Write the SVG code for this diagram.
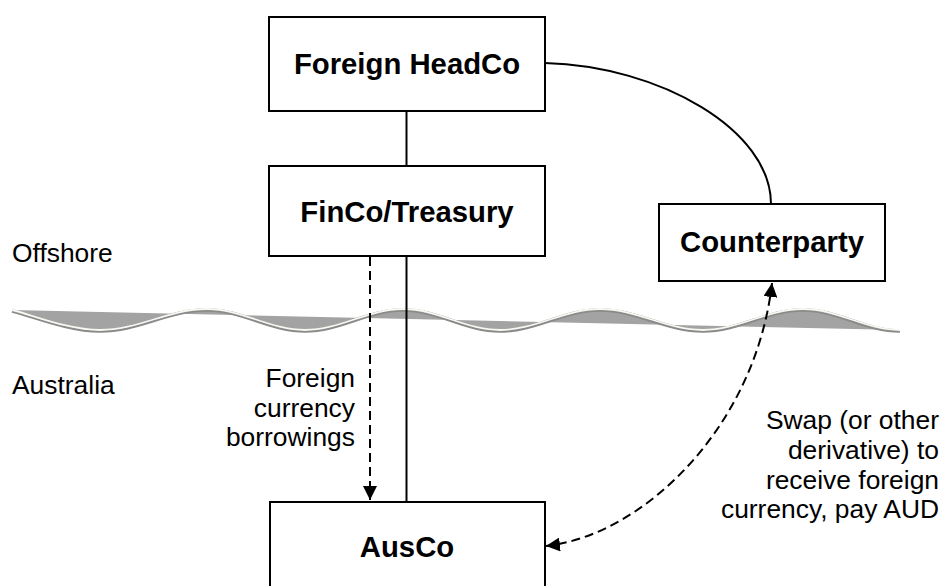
<svg xmlns="http://www.w3.org/2000/svg" width="943" height="586" viewBox="0 0 943 586">
<style>
.box{fill:#fff;stroke:#000;stroke-width:2}
.bt{font-family:"Liberation Sans",Arial,sans-serif;font-weight:bold;font-size:29.3px;fill:#000;text-anchor:middle}
.lt{font-family:"Liberation Sans",Arial,sans-serif;font-size:26.4px;fill:#000}
.ln{fill:none;stroke:#000;stroke-width:2}
.dash{fill:none;stroke:#000;stroke-width:2;stroke-dasharray:9,5}
</style>
<defs>
<marker id="ah" viewBox="0 0 10 10" refX="10" refY="5" markerUnits="userSpaceOnUse" markerWidth="14" markerHeight="14" orient="auto-start-reverse">
<path d="M0,0 L10,5 L0,10 z" fill="#000"/>
</marker>
</defs>
<rect width="943" height="586" fill="#fff"/>
<g id="boundary">
<path d="M12,310 C30,314 68,330 100,330 C139,330 168,309 207,309 C242,309 270,330 305,330 C340,330 368,309 403,309 C438,309 465,330 500,330 C536,330 564,309 600,309 C637,309 666,330 703,330 C739,330 767,309 803,309 C838,309 865,330 900,330 L12,310 Z" fill="#a3a3a3"/>
<path d="M12,310 C30,314 68,330 100,330 C139,330 168,309 207,309 C242,309 270,330 305,330 C340,330 368,309 403,309 C438,309 465,330 500,330 C536,330 564,309 600,309 C637,309 666,330 703,330 C739,330 767,309 803,309 C838,309 865,330 900,330" fill="none" stroke="#8a8a8a" stroke-width="3.5" transform="translate(0,1)"/>
<path d="M12,310 C30,314 68,330 100,330 C139,330 168,309 207,309 C242,309 270,330 305,330 C340,330 368,309 403,309 C438,309 465,330 500,330 C536,330 564,309 600,309 C637,309 666,330 703,330 C739,330 767,309 803,309 C838,309 865,330 900,330" fill="none" stroke="#f8f8f2" stroke-width="1.8"/>
<text class="lt" x="12" y="262">Offshore</text>
<text class="lt" x="12" y="394">Australia</text>
</g>
<g id="connectors">
<line class="ln" x1="406.5" y1="111" x2="406.5" y2="166"/>
<line class="ln" x1="406.5" y1="256" x2="406.5" y2="502"/>
<path class="ln" d="M545,63 C660,66 771,130 771,204"/>
<line class="dash" x1="370" y1="257" x2="370" y2="500" marker-end="url(#ah)"/>
<path class="dash" d="M772,283 C756,425 645,535 546,546" marker-start="url(#ah)" marker-end="url(#ah)"/>
<text class="lt" text-anchor="end"><tspan x="355" y="387">Foreign</tspan><tspan x="355" y="417">currency</tspan><tspan x="355" y="446">borrowings</tspan></text>
<text class="lt" text-anchor="end"><tspan x="939" y="429">Swap (or other</tspan><tspan x="939" y="459">derivative) to</tspan><tspan x="939" y="489">receive foreign</tspan><tspan x="939" y="518">currency, pay AUD</tspan></text>
</g>
<g id="foreign-headco">
<rect class="box" x="269" y="17" width="276" height="94"/>
<text class="bt" x="407" y="74">Foreign HeadCo</text>
</g>
<g id="finco-treasury">
<rect class="box" x="269" y="166" width="276" height="90"/>
<text class="bt" x="407" y="222">FinCo/Treasury</text>
</g>
<g id="counterparty">
<rect class="box" x="659" y="204" width="226" height="77"/>
<text class="bt" x="772" y="252">Counterparty</text>
</g>
<g id="ausco">
<rect class="box" x="270" y="502" width="275" height="110"/>
<text class="bt" x="407" y="557">AusCo</text>
</g>
</svg>
